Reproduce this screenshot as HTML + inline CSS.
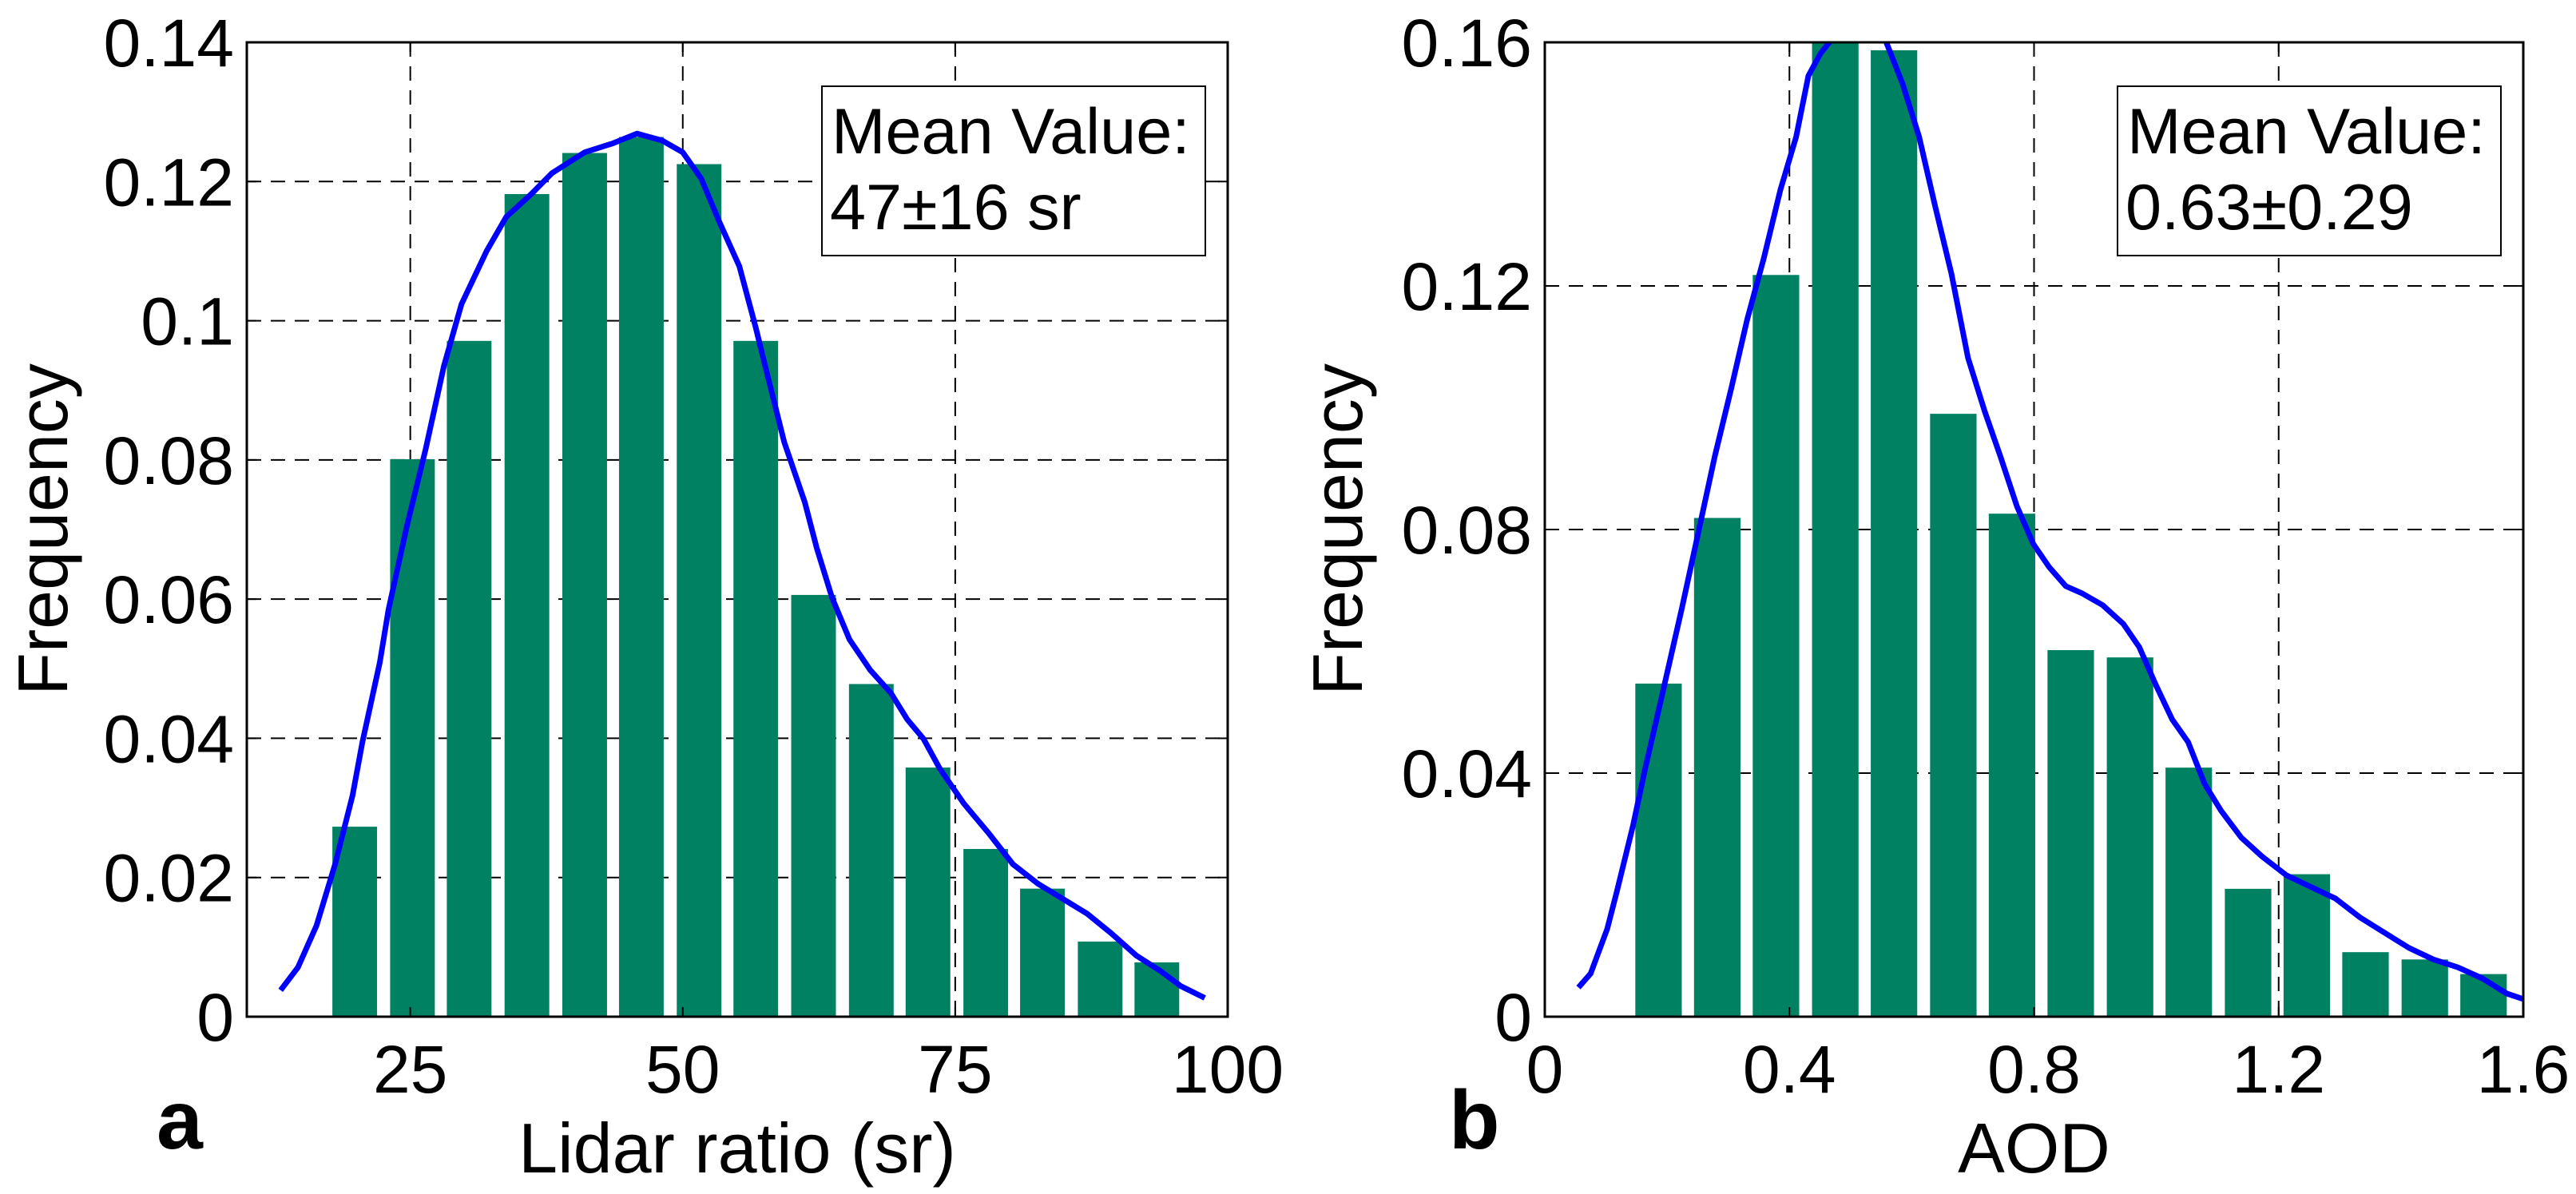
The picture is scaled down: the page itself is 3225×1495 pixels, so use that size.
<!DOCTYPE html>
<html><head><meta charset="utf-8"><style>
html,body{margin:0;padding:0;background:#fff;}
svg{display:block;font-family:"Liberation Sans",Arial,sans-serif;}
</style></head><body>
<svg id="fig" width="3225" height="1495" viewBox="0 0 3225 1495">
<defs>
<clipPath id="clipA"><rect x="309" y="53" width="1228" height="1220"/></clipPath>
<clipPath id="clipB"><rect x="1934" y="53" width="1225" height="1220"/></clipPath>
</defs>
</svg>
<script>
// Panel a: Lidar ratio
const lrCenters = [19.9,25.2,30.4,35.7,41.0,46.2,51.5,56.7,62.0,67.3,72.5,77.8,83.0,88.3,93.5];
const lrFreq = [0.0273,0.0801,0.0971,0.1182,0.1241,0.1264,0.1225,0.0971,0.0606,0.0478,0.0358,0.0241,0.0184,0.0108,0.0078];
const lrCurveX = [13.1,14.7,16.4,18.1,19.7,20.6,22.2,23.0,24.7,26.4,28.1,29.7,32.0,33.8,36.1,38.0,41.0,43.6,45.8,48.1,50.0,51.7,53.3,55.2,56.7,57.8,59.3,61.2,62.3,63.7,65.3,67.2,69.1,70.6,72.1,73.6,75.8,78.1,80.3,82.6,84.8,87.1,89.3,91.6,93.8,95.7,97.9];
const lrCurveY = [0.0038,0.0071,0.0131,0.0219,0.0318,0.0394,0.0509,0.0585,0.0706,0.0815,0.0936,0.1024,0.1100,0.1149,0.1182,0.1212,0.1242,0.1255,0.1269,0.1259,0.1242,0.1204,0.1144,0.1078,0.0990,0.0920,0.0826,0.0739,0.0673,0.0602,0.0542,0.0498,0.0465,0.0427,0.0399,0.0356,0.0306,0.0263,0.0219,0.0191,0.0170,0.0148,0.0120,0.0088,0.0066,0.0044,0.0027];
const lrYTicks = [0,0.02,0.04,0.06,0.08,0.1,0.12,0.14];
const lrYLabels = ["0","0.02","0.04","0.06","0.08","0.1","0.12","0.14"];
const lrXTicks = [25,50,75,100];
const lrXLabels = ["25","50","75","100"];
// Panel b: AOD
const aodCenters = [0.186,0.282,0.378,0.475,0.571,0.668,0.764,0.860,0.957,1.053,1.150,1.246,1.342,1.439,1.535];
const aodFreq = [0.0547,0.0819,0.1218,0.1600,0.1587,0.0990,0.0826,0.0602,0.0590,0.0409,0.0210,0.0234,0.0106,0.0094,0.0070];
const aodCurveX = [0.055,0.075,0.102,0.118,0.144,0.164,0.184,0.204,0.224,0.251,0.278,0.305,0.331,0.358,0.385,0.411,0.431,0.451,0.471,0.505,0.532,0.558,0.585,0.612,0.638,0.665,0.692,0.719,0.745,0.772,0.799,0.825,0.852,0.879,0.912,0.946,0.972,0.999,1.026,1.052,1.079,1.106,1.139,1.173,1.213,1.253,1.293,1.333,1.373,1.413,1.453,1.493,1.533,1.573,1.600];
const aodCurveY = [0.0048,0.0071,0.0144,0.0206,0.0313,0.0407,0.0494,0.0582,0.0670,0.0795,0.0920,0.1032,0.1145,0.1245,0.1357,0.1445,0.1545,0.1582,0.1607,0.1650,0.1650,0.1601,0.1532,0.1445,0.1332,0.1220,0.1082,0.0995,0.0920,0.0838,0.0776,0.0738,0.0707,0.0695,0.0676,0.0645,0.0607,0.0545,0.0488,0.0451,0.0382,0.0338,0.0294,0.0263,0.0232,0.0213,0.0194,0.0163,0.0138,0.0113,0.0094,0.0081,0.0063,0.0038,0.0029];
const aodYTicks = [0,0.04,0.08,0.12,0.16];
const aodYLabels = ["0","0.04","0.08","0.12","0.16"];
const aodXTicks = [0,0.4,0.8,1.2,1.6];
const aodXLabels = ["0","0.4","0.8","1.2","1.6"];

const NS = "http://www.w3.org/2000/svg";
const svg = document.getElementById('fig');
function mk(tag, attrs, parent){ const e=document.createElementNS(NS,tag); for(const k in attrs) e.setAttribute(k,attrs[k]); (parent||svg).appendChild(e); return e; }

function panel(p){
  const g = mk('g',{});
  
  
  const L=p.left, R=p.right, T=53, B=1273;
  const sx = v => L + (v - p.xmin)/(p.xmax - p.xmin)*(R-L);
  const sy = v => B - (v - 0)/(p.ymax)*(B-T);
  // grid
  p.yTicks.forEach((t,i)=>{
    if(t>0 && t<p.ymax){
      const l=mk('line',{x1:L,x2:R,y1:sy(t),y2:sy(t),stroke:'#000','stroke-width':2,'stroke-dasharray':'18 12'},g);
      
      
    }
  });
  p.xTicks.forEach((t,i)=>{
    if(t>p.xmin && t<p.xmax){
      const l=mk('line',{x1:sx(t),x2:sx(t),y1:T,y2:B,stroke:'#000','stroke-width':2,'stroke-dasharray':'18 12'},g);
      
      
    }
  });
  // bars
  p.centers.forEach((c,i)=>{
    const x0=sx(c - p.bw/2), x1=sx(c + p.bw/2);
    const y=sy(Math.min(p.freq[i],p.ymax));
    const r=mk('rect',{x:x0,y:y,width:x1-x0,height:B-y,fill:'#008262'},g);
    
    
  });
  // curve
  const pts = p.cx.map((x,i)=>sx(x).toFixed(1)+','+sy(p.cy[i]).toFixed(1)).join(' ');
  const pl=mk('polyline',{points:pts,fill:'none',stroke:'#0000ff','stroke-width':7,'stroke-linejoin':'round','clip-path':'url(#'+p.clip+')'},g);
  
  
  // axes box
  const bx=mk('rect',{x:L,y:T,width:R-L,height:B-T,fill:'none',stroke:'#000','stroke-width':3},g);
  
  
  // ticks & labels
  p.yTicks.forEach((t,i)=>{
    mk('line',{x1:L,x2:L+12,y1:sy(t),y2:sy(t),stroke:'#000','stroke-width':2},g);
    mk('line',{x1:R,x2:R-12,y1:sy(t),y2:sy(t),stroke:'#000','stroke-width':2},g);
    const tx=mk('text',{x:L-16,y:sy(t)+30,'text-anchor':'end','font-size':84},g);
    tx.textContent=p.yLabels[i];
    
    
  });
  p.xTicks.forEach((t,i)=>{
    mk('line',{x1:sx(t),x2:sx(t),y1:B,y2:B-12,stroke:'#000','stroke-width':2},g);
    mk('line',{x1:sx(t),x2:sx(t),y1:T,y2:T+12,stroke:'#000','stroke-width':2},g);
    const tx=mk('text',{x:sx(t),y:1368,'text-anchor':'middle','font-size':84},g);
    tx.textContent=p.xLabels[i];
    
    
  });
  const yl=mk('text',{x:0,y:0,'text-anchor':'middle','font-size':88,transform:'translate('+(p.ylabX)+',663) rotate(-90)'},g);
  yl.textContent='Frequency';
  
  
  const xl=mk('text',{x:(L+R)/2,y:1468,'text-anchor':'middle','font-size':88},g);
  xl.textContent=p.xlabel;
  
  
  const pn=mk('text',{x:p.letterX,y:1438,'font-size':104,'font-weight':'bold'},g);
  pn.textContent=p.letter;
  
  
  // annotation box
  const lg=mk('g',{},g);
  
  
  mk('rect',{x:p.boxX,y:108,width:480,height:212,fill:'#fff',stroke:'#000','stroke-width':2},lg);
  const t1=mk('text',{x:p.boxX+12,y:192,'font-size':81},lg); t1.textContent='Mean Value:';
  const t2=mk('text',{x:p.boxX+10,y:287,'font-size':81},lg); t2.textContent=p.mean;
}
panel({name:'panel-a-lidar-ratio',left:309,right:1537,xmin:10,xmax:100,ymax:0.14,bw:4.1,
  centers:lrCenters,freq:lrFreq,cx:lrCurveX,cy:lrCurveY,yTicks:lrYTicks,yLabels:lrYLabels,xTicks:lrXTicks,xLabels:lrXLabels,
  clip:'clipA',ylabX:84,xlabel:'Lidar ratio (sr)',letter:'a',letterX:196,boxX:1029,mean:'47\u00B116 sr'});
panel({name:'panel-b-aod',left:1934,right:3159,xmin:0,xmax:1.6,ymax:0.16,bw:0.076,
  centers:aodCenters,freq:aodFreq,cx:aodCurveX,cy:aodCurveY,yTicks:aodYTicks,yLabels:aodYLabels,xTicks:aodXTicks,xLabels:aodXLabels,
  clip:'clipB',ylabX:1705,xlabel:'AOD',letter:'b',letterX:1814,boxX:2651,mean:'0.63\u00B10.29'});
</script>
</body></html>
